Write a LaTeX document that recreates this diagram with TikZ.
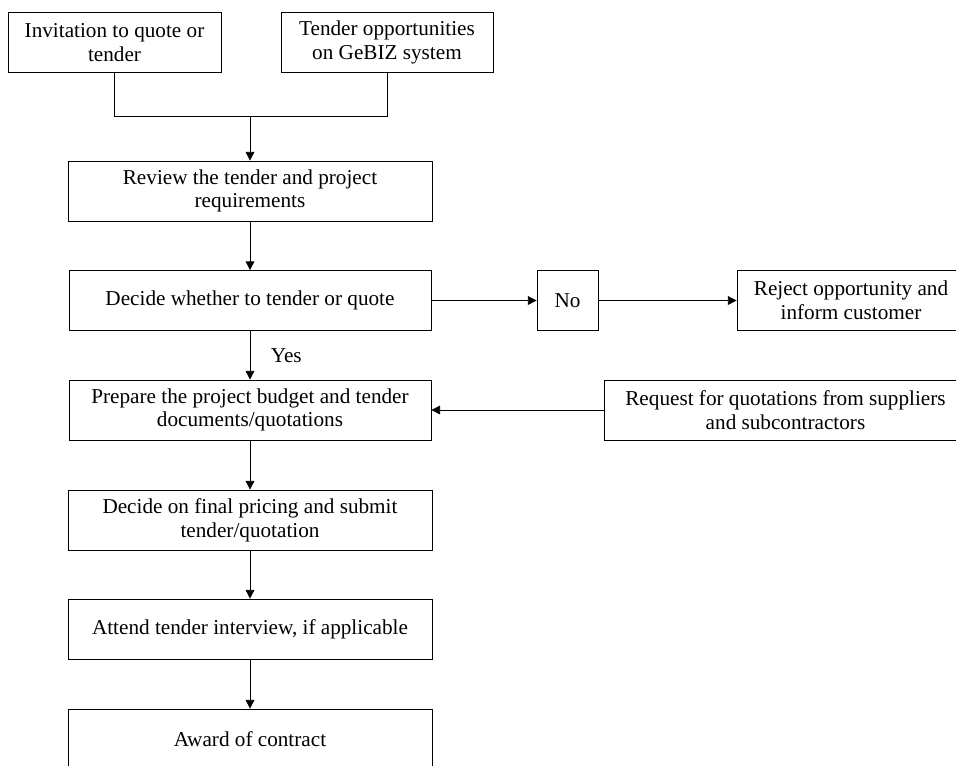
\documentclass[tikz,border=0pt]{standalone}
\usepackage{fontspec}
\setmainfont{Liberation Serif}
\usetikzlibrary{arrows.meta}
\tikzset{
  stepbox/.style={draw,rectangle,line width=0.6pt,minimum height=45pt,align=center,inner sep=2pt,
    font=\fontsize{15.9}{17.8}\selectfont},
}
\begin{document}
\begin{tikzpicture}[x=0.75pt,y=-0.75pt]
        \useasboundingbox (0,0) rectangle (956,765);
        \clip (0,0) rectangle (956,765);
        \begin{scope}[>={Triangle[length=6.5pt,width=6.5pt]},line width=0.6pt]

          \node (inv) at (114.5,42.5) [stepbox,minimum width=159.75pt]{Invitation to quote or\\tender};
          \node (gebiz) at (387,42.5) [stepbox,minimum width=159pt]{Tender opportunities\\on GeBIZ system};
          \node (review) at (250,191) [stepbox,minimum width=273pt]{Review the tender and project\\requirements};
          \node (decide) at (250,300.5) [stepbox,minimum width=271.5pt]{Decide whether to tender or quote};
          \node (no) at (567.5,300.5) [stepbox,minimum width=45.75pt]{No};
          \node (reject) at (851,300.5) [stepbox,minimum width=171pt]{Reject opportunity and\\inform customer};
          \node (prepare) at (250,410) [stepbox,minimum width=271.5pt]{Prepare the project budget and tender\\documents/quotations};
          \node (request) at (785.5,410) [stepbox,minimum width=272.25pt]{Request for quotations from suppliers\\and subcontractors};
          \node (final) at (250,520) [stepbox,minimum width=273pt]{Decide on final pricing and submit\\tender/quotation};
          \node (attend) at (250,629) [stepbox,minimum width=273pt]{Attend tender interview, if applicable};
          \node (award) at (250,739) [stepbox,minimum width=273pt]{Award of contract};

          \coordinate (join) at (250,116);

          \draw (inv.south) |- (join);
          \draw (gebiz.south) |- (join);
          \draw[->] (join) -- (review);
          \draw[->] (review) -- (decide);
          \draw[->] (decide) -- (no);
          \draw[->] (no) -- (reject);
          \draw[->] (decide) -- node[right=12pt,font=\fontsize{15.9}{17.8}\selectfont]{Yes} (prepare);
          \draw[->] (request) -- (prepare);
          \draw[->] (prepare) -- (final);
          \draw[->] (final) -- (attend);
          \draw[->] (attend) -- (award);

        \end{scope}
\end{tikzpicture}
\end{document}
